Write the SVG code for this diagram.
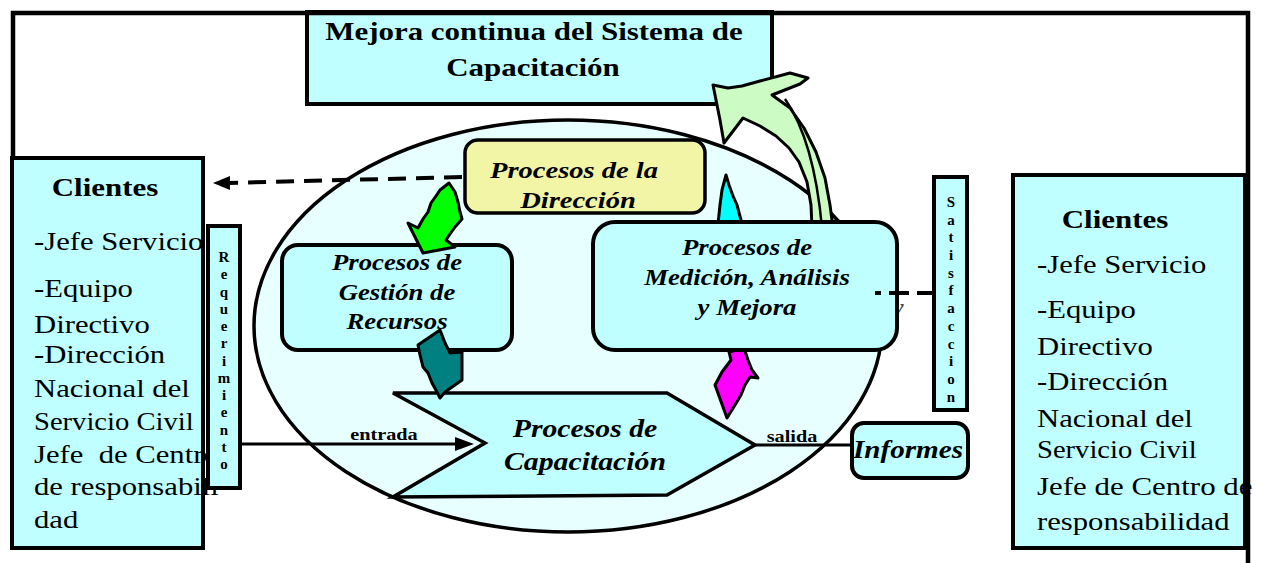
<svg xmlns="http://www.w3.org/2000/svg" width="1263" height="563" viewBox="0 0 1263 563">
<defs>
<style>
.t{font-family:"Liberation Serif","Times New Roman",serif;fill:#000}
.b{font-weight:bold}
.bi{font-weight:bold;font-style:italic}
.box{fill:#c0ffff;stroke:#000;stroke-width:4}
.ln{fill:none;stroke:#000;stroke-width:3}
.arr{stroke:#000;stroke-width:3;stroke-linejoin:round}
</style>
</defs>
<rect width="1263" height="563" fill="#fff"/>

<g id="title">
<rect class="box" x="307" y="12" width="465" height="92"/>
<text class="t b" font-size="26" text-anchor="middle" transform="translate(534 40) scale(1.19 1)">Mejora continua del Sistema de</text>
<text class="t b" font-size="26" text-anchor="middle" transform="translate(533 76) scale(1.19 1)">Capacitación</text>
</g>

<g id="sistema">
<ellipse cx="568" cy="326" rx="314" ry="206" fill="#e8ffff" stroke="#000" stroke-width="3.5"/>
</g>

<g id="mejora-arrow">
<path class="arr" fill="#ccfcc4" d="M713,85 L728,88 L742,86 L760,81 L790,73 L808,78 L800,84 L772,95 L790,108 L804,128 L816,152 L825,178 L830,205 L833,228 L812,228 L811,205 L807,182 L799,162 L789,148 L776,136 L760,126 L743,118 L724,143 L720,120 L716,100 Z"/>
<path d="M785,99 Q814,140 822,228" fill="none" stroke="#000" stroke-width="2.5"/>
</g>

<g id="direccion">
<rect x="465" y="140" width="240" height="73" rx="13" fill="#f2f5a6" stroke="#000" stroke-width="3.5"/>
<text class="t bi" font-size="24" text-anchor="middle" transform="translate(574 178) scale(1.19 1)">Procesos de la</text>
<text class="t bi" font-size="24" text-anchor="middle" transform="translate(578 208) scale(1.19 1)">Dirección</text>
</g>

<g id="gestion">
<rect class="box" x="282" y="245" width="230" height="105" rx="16" stroke-width="3.5"/>
<text class="t bi" font-size="22.5" text-anchor="middle" transform="translate(397 270) scale(1.19 1)">Procesos de</text>
<text class="t bi" font-size="22.5" text-anchor="middle" transform="translate(397 300) scale(1.19 1)">Gestión de</text>
<text class="t bi" font-size="22.5" text-anchor="middle" transform="translate(397 329) scale(1.19 1)">Recursos</text>
</g>

<g id="capacitacion">
<path d="M393,393 L667,393 L755,445 L667,495 L393,497 L485,443 Z" fill="#c0ffff" stroke="#000" stroke-width="3.5" stroke-linejoin="miter"/>
<text class="t bi" font-size="25" text-anchor="middle" transform="translate(585 437) scale(1.19 1)">Procesos de</text>
<text class="t bi" font-size="25" text-anchor="middle" transform="translate(585 470) scale(1.19 1)">Capacitación</text>
</g>

<g id="flow-arrows">
<path class="arr" fill="#00ff00" d="M449,183 L455,192 L458,202 L460,212 L462,219 L455,227 L450,234 L446,240 L455,247 L423,253 L408,223 L418,228 L423,219 L428,212 L431,203 L436,196 L440,190 Z"/>
<path class="arr" fill="#008080" d="M418,345 L440,330 L442,335 L445,343 L450,353 L462,352 L462,380 L445,392 L440,398 L437,392 L432,383 L428,373 L423,367 L420,355 Z"/>
<path class="arr" fill="#00ffff" d="M726,175 L729,185 L733,196 L737,205 L742,224 L718,224 L720,205 L722,190 Z"/>
<path class="arr" fill="#ff00ff" d="M727,418 L715,385 L722,372 L731,360 L729,352 L744,348 L748,360 L752,370 L758,378 L750,377 L745,385 L741,395 L735,405 Z"/>
</g>

<text class="t bi" font-size="20" style="fill:#444" transform="translate(893 314) scale(1.19 1)">y</text>

<g id="medicion">
<rect class="box" x="593" y="222" width="304" height="128" rx="22" stroke-width="4"/>
<text class="t bi" font-size="22.5" text-anchor="middle" transform="translate(747 255) scale(1.19 1)">Procesos de</text>
<text class="t bi" font-size="22.5" text-anchor="middle" transform="translate(747 285) scale(1.19 1)">Medición, Análisis</text>
<text class="t bi" font-size="22.5" text-anchor="middle" transform="translate(747 315) scale(1.19 1)">y Mejora</text>
</g>

<g id="connectors">
<path d="M462,177 L228,183" fill="none" stroke="#000" stroke-width="4" stroke-dasharray="18 10"/>
<polygon points="213,183 230,176 230,190" fill="#000"/>
<path d="M875,293 L933,293" fill="none" stroke="#000" stroke-width="4" stroke-dasharray="6 8 20 8 20"/>
<line class="ln" x1="240" y1="444" x2="458" y2="444"/>
<polygon points="474,444 455,437 455,451" fill="#000"/>
<line class="ln" x1="755" y1="445" x2="852" y2="445"/>
<text class="t b" font-size="17" text-anchor="middle" transform="translate(384 440) scale(1.19 1)">entrada</text>
<text class="t b" font-size="17" text-anchor="middle" transform="translate(792 442) scale(1.19 1)">salida</text>
</g>

<g id="satisfaccion">
<rect class="box" x="934" y="177" width="33" height="233"/>
<g class="t b" font-size="15" text-anchor="middle">
<text x="951" y="207">S</text><text x="951" y="225">a</text><text x="951" y="242">t</text><text x="951" y="260">i</text><text x="951" y="278">s</text><text x="951" y="295">f</text><text x="951" y="313">a</text><text x="951" y="331">c</text><text x="951" y="349">c</text><text x="951" y="366">i</text><text x="951" y="384">o</text><text x="951" y="402">n</text>
</g>
</g>

<g id="informes">
<rect class="box" x="852" y="423" width="116" height="55" rx="12" stroke-width="3.5"/>
<text class="t bi" font-size="24.5" text-anchor="middle" transform="translate(908 458) scale(1.19 1)">Informes</text>
</g>

<g id="clientes-izq">
<rect class="box" x="12" y="158" width="191" height="390"/>
<text class="t b" font-size="26" text-anchor="middle" transform="translate(105 196) scale(1.19 1)">Clientes</text>
<g class="t" font-size="26">
<text transform="translate(34 250) scale(1.18 1)">-Jefe Servicio</text>
<text transform="translate(34 297) scale(1.18 1)">-Equipo</text>
<text transform="translate(34 333) scale(1.18 1)">Directivo</text>
<text transform="translate(34 363) scale(1.18 1)">-Dirección</text>
<text transform="translate(34 397) scale(1.18 1)">Nacional del</text>
<text transform="translate(34 430) scale(1.1 1)">Servicio Civil</text>
<text transform="translate(34 463) scale(1.18 1)" xml:space="preserve">Jefe  de Centro</text>
<text transform="translate(34 495) scale(1.18 1)">de responsabili</text>
<text transform="translate(34 528) scale(1.18 1)">dad</text>
</g>
</g>

<g id="requerimiento">
<rect class="box" x="208" y="226" width="32" height="262"/>
<g class="t b" font-size="15" text-anchor="middle">
<text x="224" y="262">R</text><text x="224" y="279">e</text><text x="224" y="297">q</text><text x="224" y="314">u</text><text x="224" y="331">e</text><text x="224" y="348">r</text><text x="224" y="366">i</text><text x="224" y="383">m</text><text x="224" y="400">i</text><text x="224" y="417">e</text><text x="224" y="435">n</text><text x="224" y="452">t</text><text x="224" y="469">o</text>
</g>
</g>

<g id="clientes-der">
<rect class="box" x="1013" y="175" width="232" height="373"/>
<text class="t b" font-size="26" text-anchor="middle" transform="translate(1115 228) scale(1.19 1)">Clientes</text>
<g class="t" font-size="26">
<text transform="translate(1037 273) scale(1.18 1)">-Jefe Servicio</text>
<text transform="translate(1037 318) scale(1.18 1)">-Equipo</text>
<text transform="translate(1037 355) scale(1.18 1)">Directivo</text>
<text transform="translate(1037 390) scale(1.18 1)">-Dirección</text>
<text transform="translate(1037 427) scale(1.18 1)">Nacional del</text>
<text transform="translate(1037 458) scale(1.1 1)">Servicio Civil</text>
<text transform="translate(1037 495) scale(1.19 1)">Jefe de Centro de</text>
<text transform="translate(1037 530) scale(1.18 1)">responsabilidad</text>
</g>
</g>

<g id="marco">
<path d="M13,158 V13 H1248 V563" fill="none" stroke="#000" stroke-width="4.5"/>
</g>
</svg>
